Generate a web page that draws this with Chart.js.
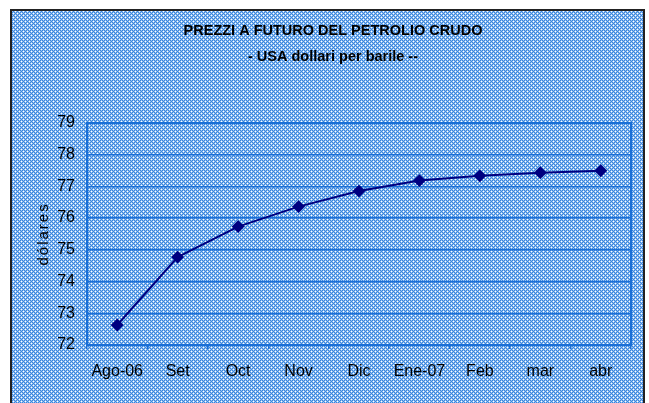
<!DOCTYPE html>
<html>
<head>
<meta charset="utf-8">
<script src="https://cdn.jsdelivr.net/npm/chart.js@4/dist/chart.umd.min.js"></script>
<style>
  html, body { margin: 0; padding: 0; background: #ffffff; }
  #wrap { position: relative; width: 649px; height: 403px; }
</style>
</head>
<body>
<div id="wrap"><canvas id="c" width="649" height="403"></canvas></div>
<script>
const categories = ['Ago-06', 'Set', 'Oct', 'Nov', 'Dic', 'Ene-07', 'Feb', 'mar', 'abr'];
const prices = [72.63, 74.77, 75.73, 76.36, 76.85, 77.18, 77.33, 77.43, 77.49];
const yTicks = [72, 73, 74, 75, 76, 77, 78, 79];
const titleText = 'PREZZI A FUTURO DEL PETROLIO CRUDO';
const subtitleText = '- USA dollari per barile --';
const yTitleText = 'dólares';

function makePattern(ctx) {
  const t = document.createElement('canvas');
  t.width = 4; t.height = 4;
  const g = t.getContext('2d');
  const B = '#3a85dd', L = '#93c0f0', W = '#ffffff';
  const map = [
    [B, L, B, L],
    [L, W, L, B],
    [B, L, B, L],
    [L, B, L, W]
  ];
  for (let y = 0; y < 4; y++) for (let x = 0; x < 4; x++) {
    g.fillStyle = map[y][x]; g.fillRect(x, y, 1, 1);
  }
  return ctx.createPattern(t, 'repeat');
}

const bgPlugin = {
  id: 'bg',
  beforeDraw(chart) {
    const ctx = chart.ctx;
    ctx.save();
    ctx.fillStyle = makePattern(ctx);
    ctx.fillRect(11, 10, 633, 403);
    ctx.strokeStyle = '#222222';
    ctx.lineWidth = 2;
    ctx.beginPath();
    ctx.moveTo(11, 404); ctx.lineTo(11, 10); ctx.lineTo(644, 10); ctx.lineTo(644, 404);
    ctx.stroke();
    ctx.restore();
  }
};

function spacedTitle(s) {
  if (s._spacedPatched) return;
  s._spacedPatched = true;
  const orig = s.drawTitle;
  s.drawTitle = function (area) {
    this.ctx.save();
    this.ctx.letterSpacing = '2px';
    orig.call(this, area);
    this.ctx.restore();
  };
}

new Chart(document.getElementById('c'), {
  type: 'line',
  data: {
    labels: categories,
    datasets: [{
      data: prices,
      borderColor: '#000080',
      backgroundColor: '#000080',
      borderWidth: 2,
      pointStyle: 'rectRot',
      pointRadius: 5,
      pointHoverRadius: 5,
      tension: 0
    }]
  },
  options: {
    responsive: false,
    animation: false,
    devicePixelRatio: 1,
    layout: { padding: { left: 35, right: 18, top: 12, bottom: 0 } },
    plugins: {
      legend: { display: false },
      tooltip: { enabled: false },
      title: {
        display: true, text: titleText, color: '#000000',
        font: { family: 'Liberation Sans', size: 14.5, weight: 'bold' },
        padding: { top: 10, bottom: 0 }
      },
      subtitle: {
        display: true, text: subtitleText, color: '#000000',
        font: { family: 'Liberation Sans', size: 14.5, weight: 'bold' },
        padding: { top: 9, bottom: 57 }
      }
    },
    scales: {
      x: {
        offset: true,
        grid: { display: true, drawOnChartArea: false, drawTicks: true, tickLength: 4, offset: true, color: '#1a6fd6', lineWidth: 1.5 },
        border: { display: true, color: '#1a6fd6', width: 2 },
        ticks: { color: '#000000', font: { family: 'Liberation Sans', size: 16 }, padding: 13, maxRotation: 0 },
        afterFit(s) { s.height = 58; }
      },
      y: {
        min: 72, max: 79,
        afterBuildTicks(s) { s.ticks = yTicks.map(v => ({ value: v })); },
        grid: { color: '#1a6fd6', lineWidth: 1.5, drawTicks: false },
        border: { display: true, color: '#1a6fd6', width: 2 },
        ticks: { color: '#000000', font: { family: 'Liberation Sans', size: 16 }, padding: 12 },
        title: {
          display: true, text: yTitleText, color: '#000000',
          font: { family: 'Liberation Sans', size: 15 }, padding: 0
        },
        afterFit(s) { s.width = 52; spacedTitle(s); }
      },
      y2: {
        position: 'right', min: 72, max: 79,
        grid: { display: false, drawTicks: false },
        border: { display: true, color: '#1a6fd6', width: 2 },
        ticks: { display: false },
        afterFit(s) { s.width = 0; }
      },
      x2: {
        position: 'top', type: 'category', labels: categories, offset: true,
        grid: { display: false, drawTicks: false },
        border: { display: true, color: '#1a6fd6', width: 2 },
        ticks: { display: false },
        afterFit(s) { s.height = 0; }
      }
    }
  },
  plugins: [bgPlugin]
});
</script>
</body>
</html>
